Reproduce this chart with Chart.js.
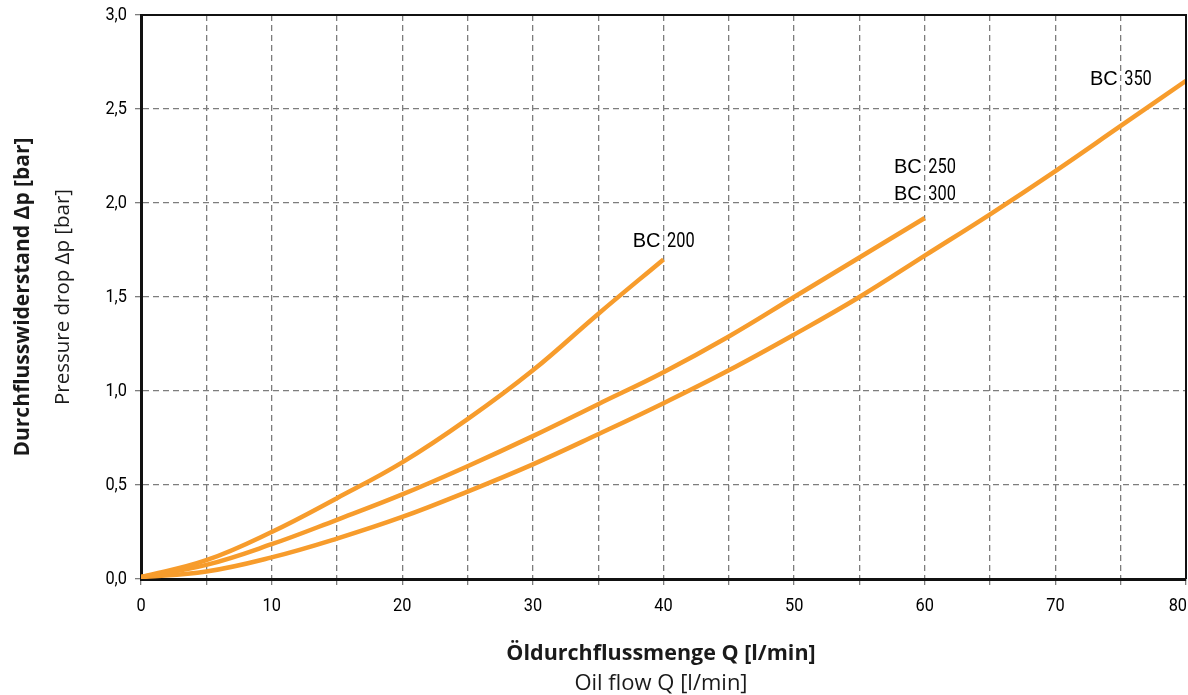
<!DOCTYPE html>
<html>
<head>
<meta charset="utf-8">
<script src="https://cdn.jsdelivr.net/npm/chart.js@4"></script>
<style>
  body { margin: 0; background: #fff; }
  #wrap { width: 1188px; height: 695px; position: relative; }
</style>
</head>
<body>
<div id="wrap"><canvas id="myChart"></canvas></div>
<script>
// data: oil flow Q [l/min] -> pressure drop [bar]
const flowBC200 = [0, 5, 10, 15, 20, 25, 30, 35, 40];
const dropBC200 = [0.01, 0.10, 0.25, 0.43, 0.62, 0.85, 1.11, 1.41, 1.70];

const flowBC300 = [0, 5, 10, 15, 20, 25, 30, 35, 40, 45, 50, 55, 60];
const dropBC300 = [0.01, 0.075, 0.185, 0.315, 0.45, 0.60, 0.76, 0.93, 1.10, 1.29, 1.50, 1.71, 1.92];

const flowBC350 = [0, 5, 10, 15, 20, 25, 30, 35, 40, 45, 50, 55, 60, 65, 70, 75, 80];
const dropBC350 = [0.01, 0.04, 0.115, 0.215, 0.33, 0.465, 0.61, 0.77, 0.935, 1.11, 1.30, 1.50, 1.72, 1.94, 2.17, 2.41, 2.65];

const xTickLabels = [0, 10, 20, 30, 40, 50, 60, 70, 80];
const yTickLabels = [0, 0.5, 1, 1.5, 2, 2.5, 3];

// curve names, anchored next to a curve end (Q, dp)
const curveNames = [
  { num: '200', q: 40, dp: 1.768 },
  { num: '250', q: 60, dp: 2.157 },
  { num: '300', q: 60, dp: 2.014 },
  { num: '350', q: 75, dp: 2.63 }
];

const orange = '#f79c2c';

function pts(xs, ys) {
  return xs.map((x, i) => ({ x: x, y: ys[i] }));
}

function curve(label, xs, ys) {
  return {
    label: label,
    data: pts(xs, ys),
    borderColor: orange,
    borderWidth: 4.5,
    pointRadius: 0,
    tension: 0.4,
    fill: false
  };
}

// condensed look: Roboto squeezed sideways
function narrowText(ctx, text, x, y, align, size, squeeze) {
  ctx.save();
  ctx.font = size + 'px Roboto, sans-serif';
  const w = ctx.measureText(text).width * squeeze;
  let left = x;
  if (align === 'right') left = x - w;
  if (align === 'center') left = x - w / 2;
  ctx.translate(left, y);
  ctx.scale(squeeze, 1);
  ctx.textAlign = 'left';
  ctx.fillText(text, 0, 0);
  ctx.restore();
  return w;
}

// text, ticks and the top/right frame
const extras = {
  id: 'extras',
  afterDatasetsDraw(chart) {
    const ctx = chart.ctx;
    const xs = chart.scales.x, ys = chart.scales.y;
    const a = chart.chartArea;
    ctx.save();

    // frame top + right
    ctx.strokeStyle = '#111';
    ctx.lineWidth = 2;
    ctx.beginPath();
    ctx.moveTo(a.left, a.top);
    ctx.lineTo(a.right, a.top);
    ctx.lineTo(a.right, a.bottom);
    ctx.stroke();

    ctx.fillStyle = '#000';
    ctx.textBaseline = 'middle';

    // y tick labels
    yTickLabels.forEach(v => {
      narrowText(ctx, v.toFixed(1).replace('.', ','), a.left - 14, ys.getPixelForValue(v), 'right', 19, 0.86);
    });

    // x tick labels, last one kept inside the canvas
    xTickLabels.forEach(v => {
      const px = xs.getPixelForValue(v);
      const t = String(v);
      ctx.font = '19px Roboto, sans-serif';
      const w = ctx.measureText(t).width * 0.86;
      if (px + w / 2 > chart.width - 1) {
        narrowText(ctx, t, chart.width - 1, 606, 'right', 19, 0.86);
      } else {
        narrowText(ctx, t, px, 606, 'center', 19, 0.86);
      }
    });

    // curve names
    ctx.textBaseline = 'alphabetic';
    curveNames.forEach(c => {
      const gx = xs.getPixelForValue(c.q);
      const gy = ys.getPixelForValue(c.dp);
      ctx.font = '20px "Liberation Sans", Arial, sans-serif';
      ctx.textAlign = 'right';
      ctx.fillText('BC', gx - 3, gy);
      narrowText(ctx, c.num, gx + 3.5, gy, 'left', 20.5, 0.8);
    });

    // axis titles
    ctx.fillStyle = '#1a1a1a';
    ctx.textAlign = 'center';
    ctx.textBaseline = 'alphabetic';
    ctx.font = 'bold 21.5px "Open Sans", sans-serif';
    ctx.fillText('Öldurchflussmenge Q [l/min]', 661, 660);
    ctx.font = '22px "Open Sans", sans-serif';
    ctx.fillText('Oil flow Q [l/min]', 661, 690);

    const cy = (a.top + a.bottom) / 2;
    ctx.translate(0, cy);
    ctx.rotate(-Math.PI / 2);
    ctx.textBaseline = 'middle';
    ctx.font = 'bold 21px "Open Sans", sans-serif';
    ctx.fillText('Durchflusswiderstand Δp [bar]', 0, 23);
    ctx.font = '20.5px "Open Sans", sans-serif';
    ctx.fillText('Pressure drop Δp [bar]', 0, 63);

    ctx.restore();
  }
};

const ctx = document.getElementById('myChart');

new Chart(ctx, {
  type: 'line',
  data: {
    datasets: [
      curve('BC 200', flowBC200, dropBC200),
      curve('BC 250 / BC 300', flowBC300, dropBC300),
      curve('BC 350', flowBC350, dropBC350)
    ]
  },
  options: {
    responsive: true,
    maintainAspectRatio: false,
    animation: false,
    layout: {
      padding: { left: 135, top: 15, right: 2, bottom: 110 }
    },
    plugins: {
      legend: { display: false },
      tooltip: { enabled: false }
    },
    scales: {
      x: {
        type: 'linear',
        min: 0,
        max: 80,
        ticks: { stepSize: 5, display: false },
        grid: {
          color: '#7d7d7d',
          lineWidth: 1.3,
          tickLength: 6,
          tickColor: '#7d7d7d',
          tickBorderDash: [6, 4]
        },
        border: { color: '#111', width: 3, dash: [6, 4] }
      },
      y: {
        type: 'linear',
        min: 0,
        max: 3,
        ticks: { stepSize: 0.5, display: false },
        grid: {
          color: '#7d7d7d',
          lineWidth: 1.3,
          tickLength: 6,
          tickColor: '#7d7d7d',
          tickBorderDash: [6, 4]
        },
        border: { color: '#111', width: 3, dash: [6, 4] }
      }
    }
  },
  plugins: [extras]
});
</script>
</body>
</html>
